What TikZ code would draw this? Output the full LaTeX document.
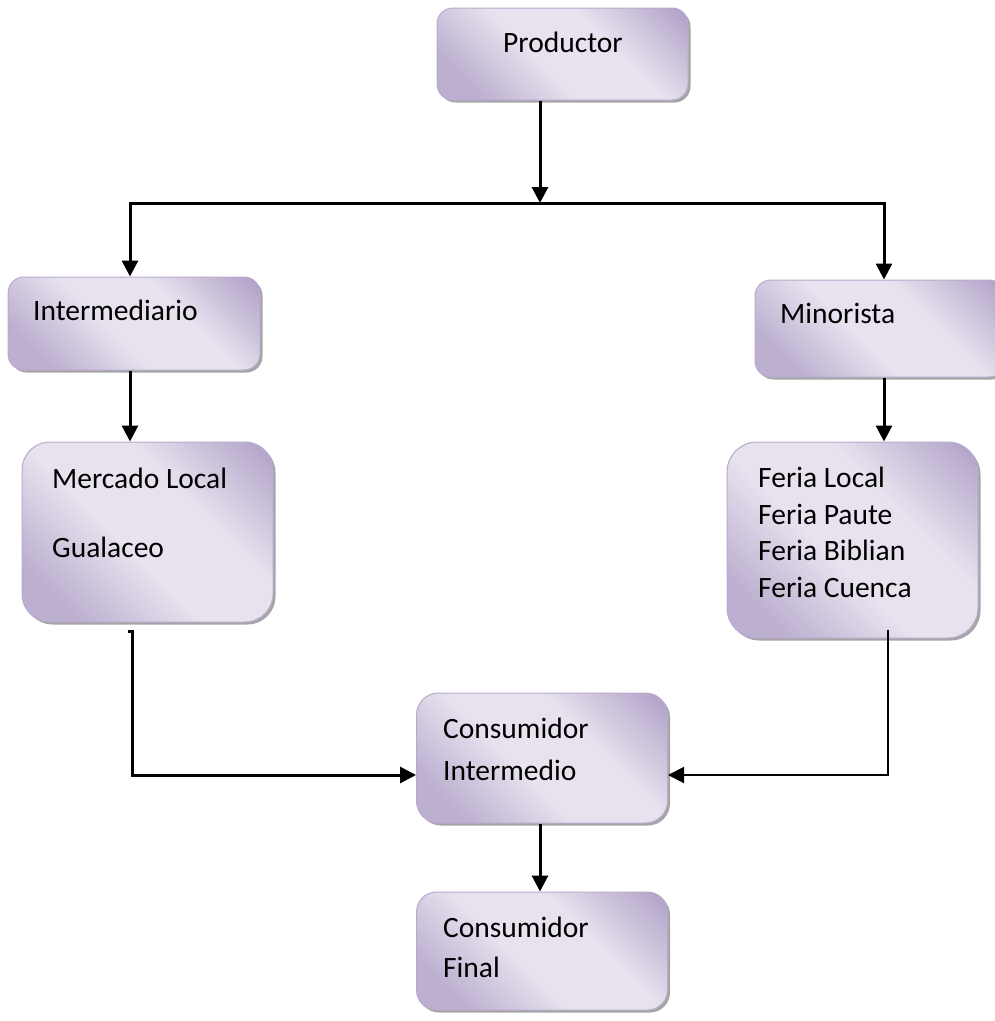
\documentclass[tikz,border=0pt]{standalone}
\usepackage{fontspec}
\setmainfont{Carlito}
\usepackage{tikz}
\usetikzlibrary{arrows.meta,shadows}
\definecolor{lilacdark}{HTML}{B1A2C8}
\definecolor{lilacmid}{HTML}{BCAFD0}
\definecolor{lilaclight}{HTML}{E7E2EE}
\definecolor{lilacedge}{HTML}{B8AACD}
\definecolor{shadowgray}{HTML}{8F8F8F}
\pgfdeclarehorizontalshading{lilac}{100bp}{color(0bp)=(lilacmid); color(24bp)=(lilacmid); color(44bp)=(lilaclight); color(62bp)=(lilaclight); color(84bp)=(lilacdark); color(100bp)=(lilacdark)}

\begin{document}
\begin{tikzpicture}[x=1pt,y=-1pt,font=\fontsize{29.5}{36.5}\selectfont,
 >={Triangle[length=16pt,width=16pt]},
 box/.style={draw=lilacedge,line width=1pt,shading=lilac,shading angle=45,rounded corners=#1,inner sep=0pt,
  drop shadow={shadow xshift=2.5pt,shadow yshift=-2.5pt,fill=shadowgray,opacity=.8}},
 box/.default=16pt,
 txt/.style={anchor=base west,align=left,inner sep=0pt},
 arr/.style={line width=3pt,->}]
\clip (0,0) rectangle (995,1021);
\node[box,minimum width=251pt,minimum height=92pt] (prod) at (562.5,54) {};
\node[txt] (prodtxt) at (503,52) {Productor};
\node[box,minimum width=252pt,minimum height=93pt] (inter) at (134,323.5) {};
\node[txt] (intertxt) at (33,320) {Intermediario};
\node[box,minimum width=250pt,minimum height=97pt] (mino) at (880,328.5) {};
\node[txt] (minotxt) at (780,323) {Minorista};
\node[box=28pt,minimum width=251pt,minimum height=180pt] (merc) at (147.5,532) {};
\node[txt] (merctxt) at (52,557) {Mercado Local\\[32.5pt]Gualaceo};
\node[box=30pt,minimum width=251pt,minimum height=196pt] (feria) at (852.5,540) {};
\node[txt] (feriatxt) at (758,597) {Feria Local\\Feria Paute\\Feria Biblian\\Feria Cuenca};
\node[box=22pt,minimum width=251pt,minimum height=130pt] (cint) at (542,758) {};
\node[txt] (cinttxt) at (443,780) {Consumidor\\[5.5pt]Intermedio};
\node[box=20pt,minimum width=251pt,minimum height=118pt] (cfin) at (542,951) {};
\node[txt] (cfintxt) at (443,977) {Consumidor\\[3.5pt]Final};
\coordinate (split) at (540,203);
\coordinate (lt) at (130,203);
\coordinate (rt) at (884,203);
\coordinate (mtail) at (132,631);
\coordinate (ftail) at (888,630);
\coordinate (cjoin) at (540,775);
\draw[arr] (split |- prod.south) -- (split);
\draw[arr,<->] (lt |- inter.north) -- (lt) -- (rt) -- (rt |- mino.north);
\draw[arr] (lt |- inter.south) -- (lt |- merc.north);
\draw[arr] (rt |- mino.south) -- (rt |- feria.north);
\draw[arr] ([xshift=-4]mtail) -- (mtail) -- (mtail |- cjoin) -- (cjoin -| cint.west);
\draw[arr,line width=2pt] (ftail) -- (ftail |- cjoin) -- (cjoin -| cint.east);
\draw[arr] (split |- cint.south) -- (split |- cfin.north);
\end{tikzpicture}
\end{document}
